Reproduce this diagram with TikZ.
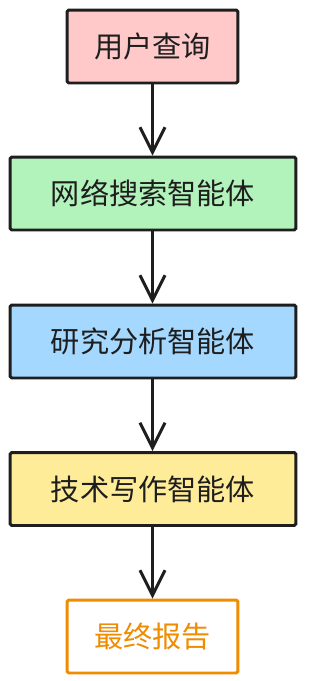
\documentclass[tikz,border=0pt]{standalone}
\usepackage{fontspec}
\setmainfont{Noto Sans CJK SC}
\usepackage{xcolor}
\usetikzlibrary{arrows.meta}

\definecolor{ink}{HTML}{1E1E1E}
\definecolor{qpink}{HTML}{FFC9C9}
\definecolor{sgreen}{HTML}{B2F2BB}
\definecolor{ablue}{HTML}{A5D8FF}
\definecolor{wyellow}{HTML}{FFEC99}
\definecolor{rorange}{HTML}{F08C00}

\begin{document}
\begin{tikzpicture}[
  x=0.02cm, y=-0.02cm,
  box/.style={draw=ink, line width=1.7pt, rounded corners=1pt, minimum height=1.46cm, fill=#1, text=ink, font=\fontsize{16.6}{19}\selectfont},
  arr/.style={-{Straight Barb[length=5mm, width=5mm]}, line width=1.7pt, draw=ink}
]
\useasboundingbox (0,0) rectangle (315,681);

% Stages
\node[box=qpink, minimum width=3.42cm] (query) at (152.5, 46.5) {用户查询};
\node[box=sgreen, minimum width=5.72cm] (search) at (153, 193.5) {网络搜索智能体};
\node[box=ablue, minimum width=5.72cm] (analysis) at (153, 341.5) {研究分析智能体};
\node[box=wyellow, minimum width=5.72cm] (writing) at (153, 489) {技术写作智能体};
\node[box=white, draw=rorange, text=rorange, minimum width=3.42cm] (report) at (152.5, 636.5) {最终报告};

% Flow
\draw[arr] (query) -- (query |- search.north);
\draw[arr] (search.south -| query) -- (query |- analysis.north);
\draw[arr] (analysis.south -| query) -- (query |- writing.north);
\draw[arr] (writing.south -| query) -- (report);
\end{tikzpicture}
\end{document}
